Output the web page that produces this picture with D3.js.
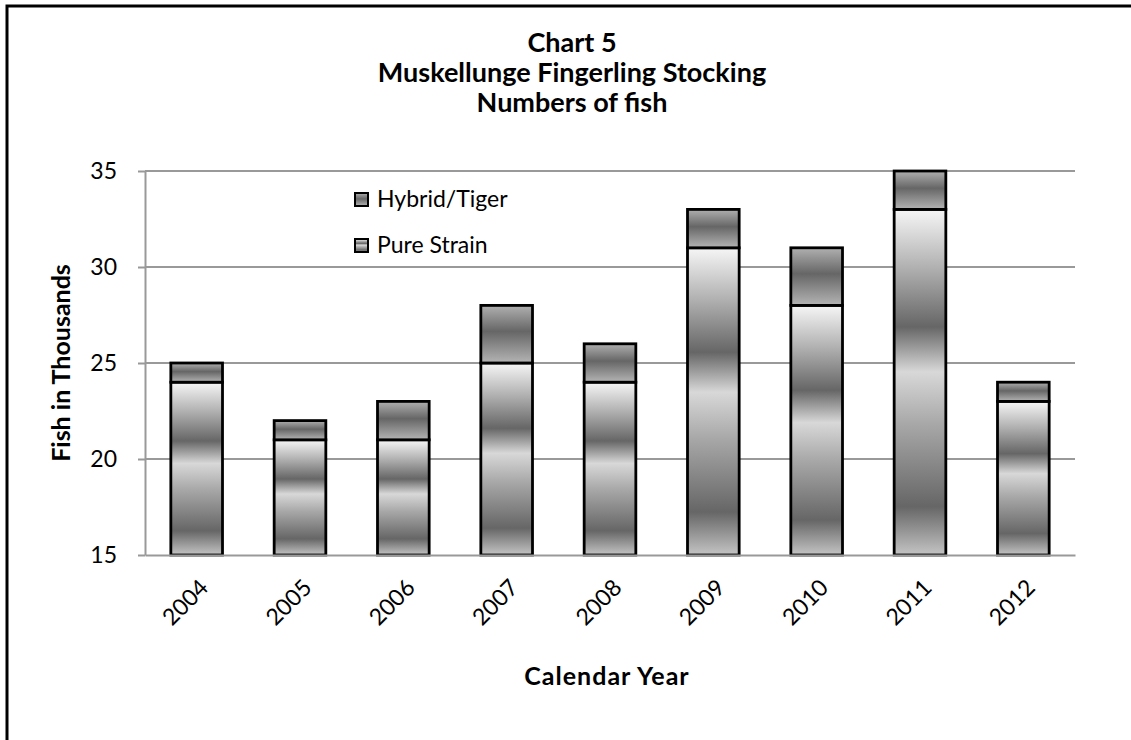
<!DOCTYPE html>
<html lang="en">
    <head>
        <meta charset="utf-8">
        <title>Muskellunge Fingerling Stocking</title>
        <script src="https://d3js.org/d3.v7.min.js"></script>
        <style>
            html, body {
                margin: 0;
                padding: 0;
                background: #fff;
                overflow: hidden;
            }
            svg {
                display: block;
                font-family: "Lato", "Open Sans", sans-serif;
            }
            .grid line {
                stroke: #999;
                stroke-width: 2;
            }
            .axis path, .axis line {
                stroke: #999;
                stroke-width: 2;
            }
            .bar {
                stroke: #000;
                stroke-width: 2.8;
            }
        </style>
    </head>
    <body>
        <svg id="chart"></svg>

        <script>
            //data
            const years = ["2004", "2005", "2006", "2007", "2008", "2009", "2010", "2011", "2012"];
            const pureStrain = [24, 21, 21, 25, 24, 31, 28, 33, 23];
            const hybridTiger = [1, 1, 2, 3, 2, 2, 3, 2, 1];
            const seriesNames = ["Pure Strain", "Hybrid/Tiger"];
            const yTicks = [15, 20, 25, 30, 35];
            const titleLines = ["Chart 5", "Muskellunge Fingerling Stocking", "Numbers of fish"];

            //dimensions
            const width = 1131;
            const height = 740;
            const margin = { top: 171, right: 56, bottom: 185, left: 145 };

            const svg = d3.select("#chart")
                .attr("width", width)
                .attr("height", height);

            //gradients
            const defs = svg.append("defs");
            const pureGrad = defs.append("linearGradient")
                .attr("id", "pureGrad")
                .attr("x1", 0).attr("y1", 0).attr("x2", 0).attr("y2", 1);
            [[0, "#f6f6f6"], [0.17, "#b0b0b0"], [0.34, "#666"], [0.47, "#d8d8d8"], [0.62, "#a8a8a8"], [0.86, "#666"], [1, "#c4c4c4"]]
                .forEach(s => pureGrad.append("stop").attr("offset", s[0]).attr("stop-color", s[1]));
            const hybridGrad = defs.append("linearGradient")
                .attr("id", "hybridGrad")
                .attr("x1", 0).attr("y1", 0).attr("x2", 0).attr("y2", 1);
            [[0, "#b0b0b0"], [0.45, "#666"], [1, "#b4b4b4"]]
                .forEach(s => hybridGrad.append("stop").attr("offset", s[0]).attr("stop-color", s[1]));
            const fills = { "Pure Strain": "url(#pureGrad)", "Hybrid/Tiger": "url(#hybridGrad)" };

            //outer frame (right and bottom edges fall outside the picture)
            svg.append("rect")
                .attr("x", 7).attr("y", 6)
                .attr("width", 1200).attr("height", 800)
                .attr("fill", "none")
                .attr("stroke", "#000")
                .attr("stroke-width", 3);

            //scales
            const xScale = d3.scaleBand()
                .domain(years)
                .range([margin.left, width - margin.right])
                .paddingInner(0.5)
                .paddingOuter(0.25);

            const yScale = d3.scaleLinear()
                .domain([15, 35])
                .range([height - margin.bottom, margin.top]);

            //gridlines
            svg.append("g")
                .attr("class", "grid")
                .selectAll("line")
                .data(yTicks.slice(1))
                .enter()
                .append("line")
                .attr("x1", margin.left)
                .attr("x2", width - margin.right)
                .attr("y1", d => yScale(d))
                .attr("y2", d => yScale(d));

            //stacked bars
            const table = years.map((y, i) => ({ year: y, "Pure Strain": pureStrain[i] - 15, "Hybrid/Tiger": hybridTiger[i] }));
            const stacked = d3.stack().keys(seriesNames)(table);

            svg.append("g")
                .selectAll("g")
                .data(stacked)
                .enter()
                .append("g")
                .attr("fill", d => fills[d.key])
                .selectAll("rect")
                .data(d => d)
                .enter()
                .append("rect")
                .attr("class", "bar")
                .attr("x", d => xScale(d.data.year))
                .attr("width", xScale.bandwidth())
                .attr("y", d => yScale(d[1] + 15))
                .attr("height", d => yScale(d[0] + 15) - yScale(d[1] + 15));

            //axes
            const xAxis = d3.axisBottom(xScale).tickSize(0).tickSizeOuter(0);
            const gx = svg.append("g")
                .attr("class", "axis")
                .attr("transform", `translate(0, ${height - margin.bottom})`)
                .call(xAxis)
                .attr("font-family", null)
                .attr("font-size", null);
            gx.selectAll("text")
                .attr("font-size", 23)
                .attr("fill", "#000")
                .attr("text-anchor", "end")
                .attr("dy", 0)
                .attr("transform", "translate(11, 32) rotate(-45)");

            const yAxis = d3.axisLeft(yScale).tickValues(yTicks).tickSize(7).tickSizeOuter(0).tickPadding(21);
            svg.append("g")
                .attr("class", "axis")
                .attr("transform", `translate(${margin.left}, 0)`)
                .call(yAxis)
                .attr("font-family", null)
                .attr("font-size", null)
                .selectAll("text")
                .attr("font-size", 23)
                .attr("fill", "#000");

            //titles
            svg.append("text")
                .attr("text-anchor", "middle")
                .attr("font-weight", "bold")
                .attr("font-size", 27)
                .selectAll("tspan")
                .data(titleLines)
                .enter()
                .append("tspan")
                .attr("x", 572)
                .attr("y", (d, i) => 52 + i * 30)
                .text(d => d);

            svg.append("text")
                .attr("x", 607)
                .attr("y", 685)
                .attr("text-anchor", "middle")
                .attr("font-weight", "bold")
                .attr("font-size", 25)
                .attr("letter-spacing", 1)
                .text("Calendar Year");

            svg.append("text")
                .attr("transform", `translate(70, 363) rotate(-90)`)
                .attr("text-anchor", "middle")
                .attr("font-weight", "bold")
                .attr("font-size", 25)
                .text("Fish in Thousands");

            //legend
            const legend = svg.append("g")
                .selectAll("g")
                .data(seriesNames.slice().reverse())
                .enter()
                .append("g")
                .attr("transform", (d, i) => `translate(355, ${193 + i * 46})`);
            legend.append("rect")
                .attr("width", 13)
                .attr("height", 13)
                .attr("fill", d => fills[d])
                .attr("stroke", "#000")
                .attr("stroke-width", 2);
            legend.append("text")
                .attr("x", 22)
                .attr("y", 14)
                .attr("font-size", 23)
                .text(d => d);
        </script>
    </body>
</html>
